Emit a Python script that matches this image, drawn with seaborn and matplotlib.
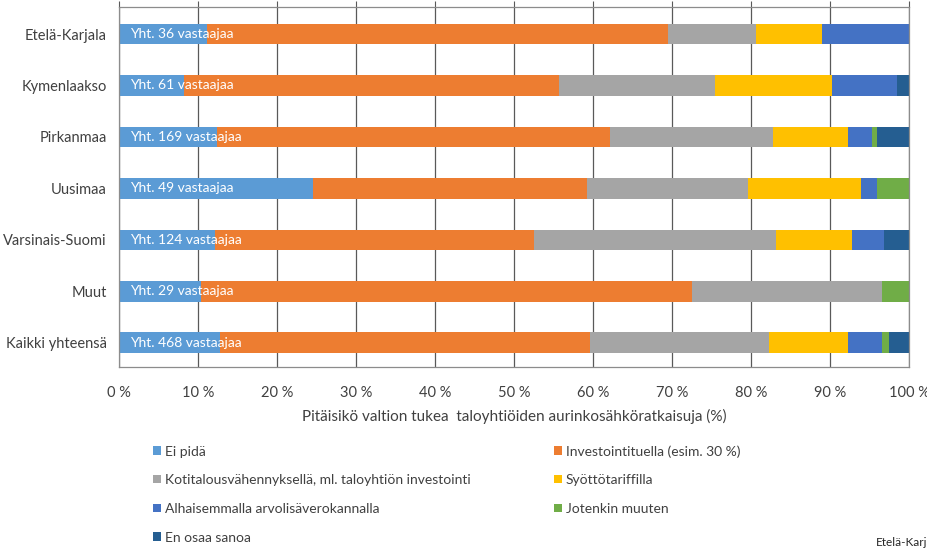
import matplotlib
matplotlib.use("Agg")
import matplotlib.pyplot as plt
from matplotlib.patches import Patch
import seaborn as sns
import pandas as pd
import numpy as np

regions = ["Etelä-Karjala", "Kymenlaakso", "Pirkanmaa", "Uusimaa",
           "Varsinais-Suomi", "Muut", "Kaikki yhteensä"]
respondents = [36, 61, 169, 49, 124, 29, 468]

categories = ["Ei pidä",
              "Investointituella (esim. 30 %)",
              "Kotitalousvähennyksellä, ml. taloyhtiön investointi",
              "Syöttötariffilla",
              "Alhaisemmalla arvolisäverokannalla",
              "Jotenkin muuten",
              "En osaa sanoa"]

# shares in percent
ei_pida = [11.1, 8.2, 12.4, 24.5, 12.1, 10.3, 12.8]
investointi = [58.3, 47.5, 49.7, 34.7, 40.3, 62.1, 46.8]
kotitalous = [11.1, 19.7, 20.7, 20.4, 30.6, 24.1, 22.6]
syotto = [8.3, 14.8, 9.5, 14.3, 9.7, 0.0, 10.0]
alv = [11.1, 8.2, 3.0, 2.0, 4.0, 0.0, 4.3]
muuten = [0.0, 0.0, 0.6, 4.1, 0.0, 3.4, 0.9]
en_osaa = [0.0, 1.6, 4.1, 0.0, 3.2, 0.0, 2.6]

colors = ["#5B9BD5", "#ED7D31", "#A5A5A5", "#FFC000", "#4472C4", "#70AD47", "#255E91"]


def main():
    sns.set_theme(style="white")
    plt.rcParams["font.family"] = ["Lato", "DejaVu Sans"]
    text_col = "#404040"

    series = [ei_pida, investointi, kotitalous, syotto, alv, muuten, en_osaa]
    df = pd.DataFrame(np.array(series).T, columns=categories)
    # cumulative sums, normalised to 100
    vals = df[categories].to_numpy()
    vals = vals / vals.sum(axis=1, keepdims=True) * 100
    cum = np.cumsum(vals, axis=1)

    fig = plt.figure(figsize=(9.28, 5.49), dpi=100)
    ax = fig.add_axes([119.3 / 928, 1 - 367 / 549, 790 / 928, 360 / 549])

    # stacked bars: draw cumulative totals from the last segment backwards
    for i in range(len(categories) - 1, -1, -1):
        d = pd.DataFrame({"Alue": regions, "v": cum[:, i]})
        sns.barplot(data=d, x="v", y="Alue", orient="h", color=colors[i],
                    saturation=1, width=0.4, linewidth=0, ax=ax, zorder=2)

    for k, n in enumerate(respondents):
        ax.text(1.3, k, f"Yht. {n} vastaajaa", color="white", va="center",
                ha="left", fontsize=10, zorder=5)

    ax.set_xlim(0, 100)
    ax.set_ylim(6.472, -0.525)
    ticks = list(range(0, 101, 10))
    ax.set_xticks(ticks)
    ax.set_xticklabels([f"{t} %" for t in ticks], fontsize=10.5, color=text_col)
    ax.tick_params(axis="x", top=True, bottom=False, labeltop=False,
                   labelbottom=True, direction="out", length=4,
                   color="#595959", width=0.8, pad=10)
    ax.tick_params(axis="y", left=False, labelsize=10.5, labelcolor=text_col, pad=3)
    ax.grid(axis="x", color="#595959", linewidth=0.9, zorder=0)
    ax.set_axisbelow(True)
    for s in ax.spines.values():
        s.set_visible(True)
        s.set_color("#8c8c8c")
        s.set_linewidth(0.9)
    ax.set_ylabel("")
    ax.set_xlabel("Pitäisikö valtion tukea  taloyhtiöiden aurinkosähköratkaisuja (%)",
                  fontsize=11, color=text_col, labelpad=6)

    handles = [Patch(facecolor=c, edgecolor="none") for c in colors]
    order = [0, 2, 4, 6, 1, 3, 5]
    fig.legend([handles[i] for i in order], [categories[i] for i in order],
               loc="upper left", bbox_to_anchor=(153 / 928, 1 - 445 / 549),
               ncol=2, frameon=False, fontsize=10, labelcolor=text_col,
               handlelength=0.55, handleheight=0.55, handletextpad=0.3,
               labelspacing=1.2, columnspacing=6.0, borderpad=0,
               borderaxespad=0)

    fig.text(876 / 928, 1 - 543 / 549, "Etelä-Karjala", fontsize=8.5,
             color="#262626", ha="left", va="center")

    plt.savefig("out.png", dpi=100)


if __name__ == "__main__":
    main()
